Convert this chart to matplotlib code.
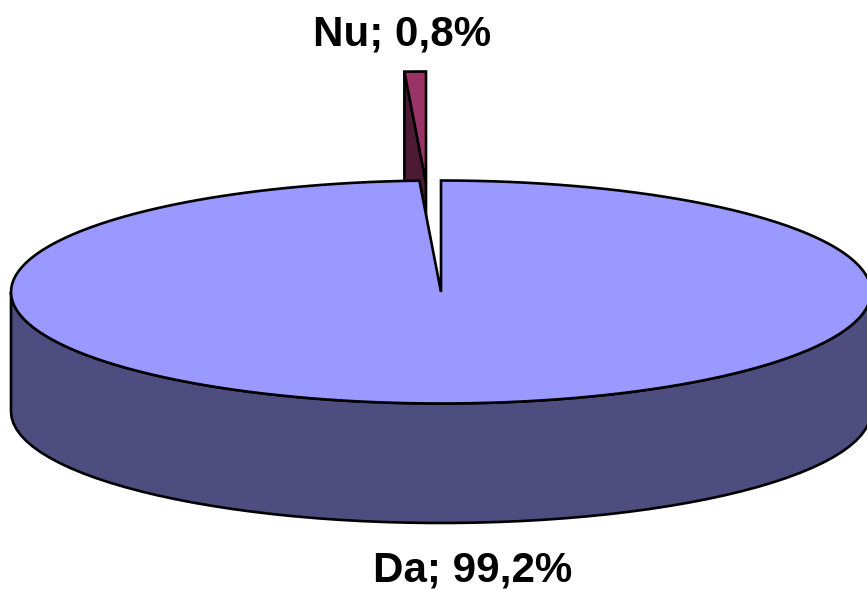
import numpy as np
import matplotlib.pyplot as plt
from matplotlib.patches import Polygon

plt.rcParams['font.family'] = ['Liberation Sans', 'DejaVu Sans']

# --- data ---
categories = ["Da", "Nu"]
shares = [99.2, 0.8]

# --- pie geometry (pixels) ---
cx, cy = 441, 292
rx, ry = 430, 111.5
depth = 119.5
nu_dx, nu_dy = -15, -109  # exploded slice

top_color = "#9999FF"
side_color = "#4D4D80"
nu_top_color = "#993366"
nu_side_color = "#4D1A33"
lw = 1.9


def rim(t0, t1, n=60):
    # angles clockwise from 12 o'clock, in degrees
    t = np.radians(np.linspace(t0, t1, n))
    return np.column_stack((cx + rx * np.sin(t), cy - ry * np.cos(t)))


fig = plt.figure(figsize=(8.67, 5.9), dpi=100)
ax = fig.add_axes([0, 0, 1, 1])
ax.set_xlim(0, 867)
ax.set_ylim(590, 0)
ax.axis("off")

da_angle = 360 * shares[0] / sum(shares)
nu_angle = 360 * shares[1] / sum(shares)

# === exploded slice (behind) ===
nu_rim = rim(-nu_angle, 0, 6) + [nu_dx, nu_dy]
apex = np.array([cx + nu_dx, cy + nu_dy])
nu_side = np.array([nu_rim[0], apex, apex + [0, depth], nu_rim[0] + [0, depth]])
ax.add_patch(Polygon(nu_side, closed=True, fc=nu_side_color, ec="black", lw=lw, joinstyle="miter", zorder=1))
nu_top = np.vstack((apex, nu_rim))
ax.add_patch(Polygon(nu_top, closed=True, fc=nu_top_color, ec="black", lw=lw, joinstyle="miter", zorder=2))

# === main slice ===
front = rim(90, 270)
wall = np.vstack((front, (front + [0, depth])[::-1]))
ax.add_patch(Polygon(wall, closed=True, fc=side_color, ec="black", lw=lw, zorder=3))
da_top = np.vstack(([cx, cy], rim(0, da_angle, 160)))
ax.add_patch(Polygon(da_top, closed=True, fc=top_color, ec="black", lw=lw, zorder=4))

# === labels ===
labels = [f"{c}; {s:.1f}%".replace(".", ",") for c, s in zip(categories, shares)]
ax.text(472.5, 571, labels[0], fontsize=30.3, fontweight="bold", ha="center", va="center")
ax.text(402.5, 34, labels[1], fontsize=30.3, fontweight="bold", ha="center", va="center")

fig.savefig("out.png", dpi=100)
